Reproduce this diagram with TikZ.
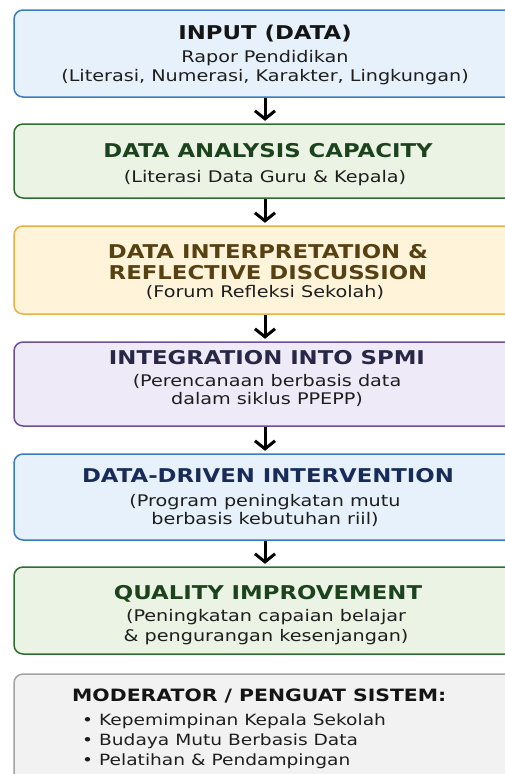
\documentclass[tikz,border=0pt]{standalone}
\usepackage{fontspec}
\setmainfont{DejaVu Sans}[FakeStretch=1.2]
\usetikzlibrary{arrows.meta}
\definecolor{bluefill}{HTML}{E6F1FB}
\definecolor{blueline}{HTML}{3B7CC0}
\definecolor{greenfill}{HTML}{EBF3E4}
\definecolor{greenline}{HTML}{2F6E30}
\definecolor{yellowfill}{HTML}{FFF4DA}
\definecolor{yellowline}{HTML}{E8B046}
\definecolor{purplefill}{HTML}{EEEAF7}
\definecolor{purpleline}{HTML}{6B4F9C}
\definecolor{grayfill}{HTML}{F2F2F2}
\definecolor{grayline}{HTML}{A3A3A3}
\definecolor{subtext}{HTML}{1E1E1E}
\definecolor{tblack}{HTML}{151515}
\definecolor{tgreen}{HTML}{1C431E}
\definecolor{tbrown}{HTML}{574112}
\definecolor{tpurple}{HTML}{282746}
\definecolor{tnavy}{HTML}{192C59}
\begin{document}
\begin{tikzpicture}[x=1pt,y=-1pt,
  stage/.style={draw=#1line, fill=#1fill, line width=1.5pt, rounded corners=9pt,
    minimum width=502pt, inner sep=0pt},
  ttl/.style={anchor=base, inner sep=0pt, font=\fontsize{19}{22}\selectfont\bfseries, text=#1},
  sub/.style={anchor=base, inner sep=0pt, font=\fontsize{16}{19}\selectfont, text=subtext},
  flow/.style={-{Straight Barb[length=8pt,width=20pt,line width=3pt]}, line width=3pt,
    shorten <=0.5pt, shorten >=2.5pt}]
\useasboundingbox (0,0) rectangle (504,774);
\fill[white] (0,0) rectangle (504,774);
% boxes
\node[stage=blue,   minimum height=87pt]  (b1) at (265,53.5) {};
\node[stage=green,  minimum height=74pt]  (b2) at (265,161) {};
\node[stage=yellow, minimum height=88pt]  (b3) at (265,270) {};
\node[stage=purple, minimum height=84pt]  (b4) at (265,384) {};
\node[stage=blue,   minimum height=86pt]  (b5) at (265,497) {};
\node[stage=green,  minimum height=87pt]  (b6) at (265,610.5) {};
\node[stage=gray,   minimum height=126pt] (b7) at (265,737) {};
% arrows
\draw[flow] (b1) -- (b2);
\draw[flow] (b2) -- (b3);
\draw[flow] (b3) -- (b4);
\draw[flow] (b4) -- (b5);
\draw[flow] (b5) -- (b6);
% texts
\node[ttl=tblack] (t1) at (265,39) {INPUT (DATA)};
\node[sub] (s1a) at (265,62) {Rapor Pendidikan};
\node[sub] (s1b) at (265,81) {(Literasi, Numerasi, Karakter, Lingkungan)};
\node[ttl=tgreen] (t2) at (268,157) {DATA ANALYSIS CAPACITY};
\node[sub] (s2) at (265,182) {(Literasi Data Guru \& Kepala)};
\node[ttl=tbrown] (t3a) at (268,258) {DATA INTERPRETATION \&};
\node[ttl=tbrown] (t3b) at (268,279) {REFLECTIVE DISCUSSION};
\node[sub] (s3) at (265,297) {(Forum Refleksi Sekolah)};
\node[ttl=tpurple] (t4) at (267,364) {INTEGRATION INTO SPMI};
\node[sub] (s4a) at (267,386) {(Perencanaan berbasis data};
\node[sub] (s4b) at (267,404) {dalam siklus PPEPP)};
\node[ttl=tnavy] (t5) at (268,482) {DATA-DRIVEN INTERVENTION};
\node[sub] (s5a) at (265,506) {(Program peningkatan mutu};
\node[sub] (s5b) at (265,524) {berbasis kebutuhan riil)};
\node[ttl=tgreen] (t6) at (268,599) {QUALITY IMPROVEMENT};
\node[sub] (s6a) at (266,621) {(Peningkatan capaian belajar};
\node[sub] (s6b) at (266,641) {\& pengurangan kesenjangan)};
\node[ttl=tblack, anchor=base west, font=\fontsize{17}{19}\selectfont\bfseries] (t7) at (72,701) {MODERATOR / PENGUAT SISTEM:};
\node[sub, anchor=base west, font=\fontsize{15.5}{18}\selectfont] (m1) at (82,725) {•\hspace{6pt}Kepemimpinan Kepala Sekolah};
\node[sub, anchor=base west, font=\fontsize{15.5}{18}\selectfont] (m2) at (82,745) {•\hspace{6pt}Budaya Mutu Berbasis Data};
\node[sub, anchor=base west, font=\fontsize{15.5}{18}\selectfont] (m3) at (82,765) {•\hspace{6pt}Pelatihan \& Pendampingan};
\end{tikzpicture}
\end{document}
